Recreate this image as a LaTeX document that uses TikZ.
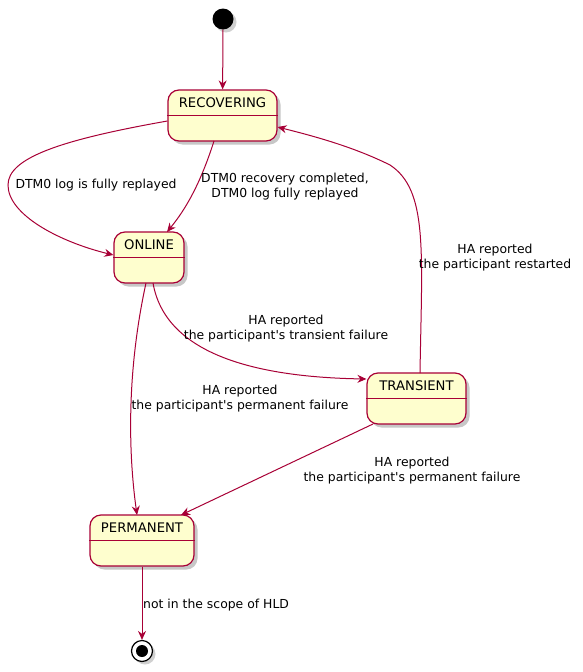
\documentclass[tikz,border=0pt]{standalone}
\usepackage{fontspec}
\setmainfont{DejaVu Sans}
\usetikzlibrary{arrows.meta,shadows,calc}
\definecolor{plborder}{HTML}{A80036}
\definecolor{plfill}{HTML}{FEFECE}
\begin{document}
\begin{tikzpicture}[x=1pt,y=-1pt,
  statebox/.style={draw=plborder, fill=plfill, line width=1.2pt, rounded corners=11pt,
    inner sep=0pt, minimum height=51pt,
    drop shadow={shadow xshift=3.5pt, shadow yshift=-3.5pt, opacity=0.4, fill=black!55}},
  statename/.style={font=\fontsize{13.2}{15}\selectfont, inner sep=0pt, anchor=center},
  divider/.style={draw=plborder, line width=1.2pt},
  lbl/.style={font=\fontsize{12.4}{15}\selectfont, align=center, inner sep=0pt},
  arr/.style={draw=plborder, line width=1pt, -{Stealth[length=9pt,width=8pt,inset=3pt]}},
]
\useasboundingbox[fill=white] (0,0) rectangle (583,672);

% start
\node[circle, fill=black, minimum size=21pt, inner sep=0pt,
  drop shadow={shadow xshift=3pt, shadow yshift=-3pt, opacity=0.3, fill=black!60}] (start) at (223,19) {};

% states
\node[statebox, minimum width=109pt] (rec) at (222.5,115.5) {};
\draw[divider] (rec.west) -- (rec.east);
\node[statename] (recT) at ($(rec.north)+(0,13)$) {RECOVERING};

\node[statebox, minimum width=70pt] (onl) at (149,257.5) {};
\draw[divider] (onl.west) -- (onl.east);
\node[statename] (onlT) at ($(onl.north)+(0,13)$) {ONLINE};

\node[statebox, minimum width=99pt] (tra) at (416.5,398.5) {};
\draw[divider] (tra.west) -- (tra.east);
\node[statename] (traT) at ($(tra.north)+(0,13)$) {TRANSIENT};

\node[statebox, minimum width=104pt] (per) at (142,540.5) {};
\draw[divider] (per.west) -- (per.east);
\node[statename] (perT) at ($(per.north)+(0,13)$) {PERMANENT};

% end
\node[circle, draw=black, fill=white, line width=1.2pt, minimum size=21pt, inner sep=0pt,
  drop shadow={shadow xshift=3pt, shadow yshift=-3pt, opacity=0.3, fill=black!60}] (fin) at (142,651) {};
\node[circle, fill=black, minimum size=12pt, inner sep=0pt] (finIn) at (fin.center) {};

% connectors
\draw[arr] (start) -- (rec);
\draw[arr] (rec.west |- 0,121) .. controls (60,140) and (8,158) .. (8,185)
   .. controls (8,215) and (60,242) .. (onl.west |- 0,255);
\draw[arr] (214,141) .. controls (200,185) and (185,210) .. (167,232);
\draw[arr] (153,283) .. controls (165,352) and (250,377) .. (tra.west |- 0,379);
\draw[arr] (420,373) .. controls (422,250) and (428,190) .. (390,165)
   .. controls (350,145) and (305,134) .. (rec.east |- 0,127);
\draw[arr] (146,283) .. controls (127,370) and (128,450) .. (137,515);
\draw[arr] (373,424) -- (181,515);
\draw[arr] (per) -- (fin);

% labels
\node[lbl] (l1) at (96,185) {DTM0 log is fully replayed};
\node[lbl] (l2) at (285,186.5) {DTM0 recovery completed,\\DTM0 log fully replayed};
\node[lbl] (l3) at (286,328.5) {HA reported\\the participant\textquotesingle s transient failure};
\node[lbl] (l4) at (495,258) {HA reported\\the participant restarted};
\node[lbl] (l5) at (240,399) {HA reported\\the participant\textquotesingle s permanent failure};
\node[lbl] (l6) at (412,470.5) {HA reported\\the participant\textquotesingle s permanent failure};
\node[lbl, anchor=west] (l7) at (143,605) {not in the scope of HLD};
\end{tikzpicture}
\end{document}
